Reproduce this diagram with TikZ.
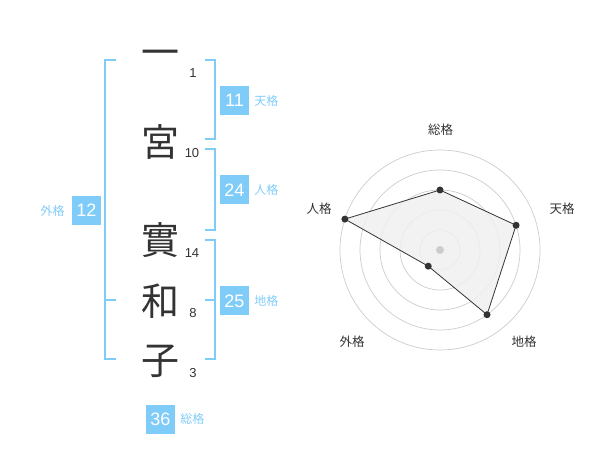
\documentclass[tikz,border=0pt]{standalone}
\usepackage{fontspec}
\usetikzlibrary{positioning}
\setmainfont{Liberation Sans}
\newfontfamily\jp{Noto Sans CJK JP}
\definecolor{kb}{HTML}{80CCF8}
\definecolor{ink}{HTML}{333333}
\definecolor{ring}{HTML}{CCCCCC}
\definecolor{area}{HTML}{F0F0F0}
\tikzset{
  kanji/.style={inner sep=0pt, text=ink, font=\jp\fontsize{38}{38}\selectfont},
  strokes/.style={inner sep=0pt, text=ink, font=\fontsize{13}{13}\selectfont},
  valbox/.style={fill=kb, text=white, minimum size=29pt, inner sep=0pt, font=\fontsize{18}{18}\selectfont},
  kaku/.style={inner sep=0pt, text=kb, font=\jp\fontsize{12}{12}\selectfont},
  axislabel/.style={inner sep=0pt, text=ink, font=\jp\fontsize{12.5}{12.5}\selectfont},
  brace/.style={draw=kb, line width=1.8pt},
  dot/.style={circle, fill=ink, inner sep=0pt, minimum size=7pt},
}
\begin{document}
\begin{tikzpicture}[x=1pt,y=-1pt]
\useasboundingbox (0,0) rectangle (600,470);
% characters
\node[kanji] (c1) at (160,58) {一};
\node[kanji] (c2) at (160,142) {宮};
\node[kanji] (c3) at (160,240) {實};
\node[kanji] (c4) at (160,301) {和};
\node[kanji] (c5) at (160,361) {子};
% strokes
\node[strokes] (s1) at (193,73) {1};
\node[strokes] (s2) at (192,153) {10};
\node[strokes] (s3) at (192,253) {14};
\node[strokes] (s4) at (193,313) {8};
\node[strokes] (s5) at (193,373) {3};
% brackets
\draw[brace] (116,60) -- (105,60) -- (105,359) -- (116,359);
\draw[brace] (105,300) -- (116,300);
\draw[brace] (205,60) -- (215,60) -- (215,139) -- (205,139);
\draw[brace] (205,149) -- (215,149) -- (215,230) -- (205,230);
\draw[brace] (205,240) -- (215,240) -- (215,359) -- (205,359);
\draw[brace] (205,300) -- (215,300);
% values
\node[valbox] (gai) at (86.5,210.5) {12};
\node[kaku, left=7pt of gai] (gail) {外格};
\node[valbox] (ten) at (234.5,100.5) {11};
\node[kaku, right=5pt of ten] (tenl) {天格};
\node[valbox] (jin) at (234.5,190) {24};
\node[kaku, right=5pt of jin] (jinl) {人格};
\node[valbox] (chi) at (234.5,301) {25};
\node[kaku, right=5pt of chi] (chil) {地格};
\node[valbox] (sou) at (160.5,419) {36};
\node[kaku, right=5pt of sou] (soul) {総格};
% radar
\coordinate (c) at (440,250);
\foreach \r in {20,40,60,80,100}
  \draw[ring, line width=0.7pt] (c) circle[radius=\r];
\coordinate (p1) at ([shift={(-90:60)}]c);
\coordinate (p2) at ([shift={(-18:80)}]c);
\coordinate (p3) at ([shift={(54:80)}]c);
\coordinate (p4) at ([shift={(126:20)}]c);
\coordinate (p5) at ([shift={(198:100)}]c);
\fill[area, opacity=0.85] (p1) -- (p2) -- (p3) -- (p4) -- (p5) -- cycle;
\draw[ink, line width=0.8pt] (p1) -- (p2) -- (p3) -- (p4) -- (p5) -- cycle;
\node[circle, fill=ring, inner sep=0pt, minimum size=8pt] (cd) at (c) {};
\foreach \p in {p1,p2,p3,p4,p5}
  \node[dot] at (\p) {};
\node[axislabel] (a1) at (440.5,130) {総格};
\node[axislabel] (a2) at (562,209) {天格};
\node[axislabel] (a3) at (524,342) {地格};
\node[axislabel] (a4) at (352,342) {外格};
\node[axislabel] (a5) at (319,209) {人格};
\end{tikzpicture}
\end{document}
